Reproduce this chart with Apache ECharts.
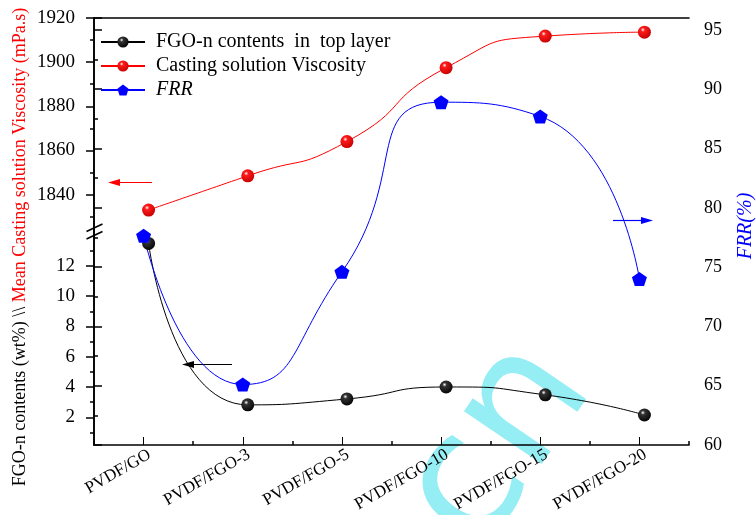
<!DOCTYPE html>
<html>
<head>
<meta charset="utf-8">
<script src="https://cdn.jsdelivr.net/npm/echarts@6/dist/echarts.min.js"></script>
<style>
  html, body { margin: 0; padding: 0; background: #ffffff; }
  #chart { width: 756px; height: 515px; }
</style>
</head>
<body>
<div id="chart"></div>
<script>
// Membrane samples along the x axis
const categories = ['PVDF/GO', 'PVDF/FGO-3', 'PVDF/FGO-5', 'PVDF/FGO-10', 'PVDF/FGO-15', 'PVDF/FGO-20'];

// FGO-n contents in the top layer (wt%), lower-left scale
const fgoContents = [13.48, 2.82, 3.21, 4.0, 3.48, 2.15];
// Mean casting solution viscosity (mPa.s), upper-left scale
const viscosity = [1833.0, 1848.5, 1864.0, 1897.5, 1911.8, 1913.6];
// Flux recovery ratio (%), right scale
const frr = [77.65, 65.1, 74.6, 88.9, 87.7, 74.0];

// Tick values
const viscTicks = [1840, 1860, 1880, 1900, 1920];
const viscMinor = [1830, 1850, 1870, 1890, 1910];
const fgoTicks = [2, 4, 6, 8, 10, 12];
const fgoMinor = [1, 3, 5, 7, 9, 11, 13];
const frrTicks = [60, 65, 70, 75, 80, 85, 90, 95];

const SERIF = '"Liberation Serif", "Times New Roman", serif';
const AXIS_LINE = { show: true, lineStyle: { color: '#000', width: 1.6 } };
const plain = (v) => String(v);

function sphere(base, edge) {
  return {
    type: 'radial', x: 0.38, y: 0.32, r: 0.75,
    colorStops: [
      { offset: 0, color: '#ffffff' },
      { offset: 0.22, color: base },
      { offset: 1, color: edge }
    ]
  };
}
const pentagon = 'path://M0,-1 L0.951,-0.309 L0.588,0.809 L-0.588,0.809 L-0.951,-0.309 Z';

// a left scale made of a labelled major-tick axis plus a bare minor-tick axis
function leftScale(gridIndex, min, max, major, minor) {
  return [
    {
      type: 'value', gridIndex, position: 'left', offset: 5, min, max,
      axisLine: AXIS_LINE,
      splitLine: { show: false },
      axisTick: { show: true, inside: false, length: 8, customValues: major, lineStyle: { color: '#000', width: 1.5 } },
      axisLabel: { show: true, customValues: major, formatter: plain, margin: 19, color: '#000', fontFamily: SERIF, fontSize: 19 }
    },
    {
      type: 'value', gridIndex, position: 'left', offset: 5, min, max,
      axisLine: { show: false },
      splitLine: { show: false },
      axisTick: { show: true, inside: false, length: 4, customValues: minor, lineStyle: { color: '#000', width: 1.5 } },
      axisLabel: { show: false }
    }
  ];
}

const chart = echarts.init(document.getElementById('chart'), null, { renderer: 'canvas' });

const yAxes = [
  {
    type: 'value', gridIndex: 0, position: 'right', min: 60, max: 96, interval: 5,
    axisLine: AXIS_LINE,
    splitLine: { show: false },
    axisTick: { show: true, length: 8, lineStyle: { color: '#000', width: 1.5 } },
    minorTick: { show: true, splitNumber: 2, length: 4, lineStyle: { color: '#000', width: 1.5 } },
    axisLabel: { customValues: frrTicks, formatter: plain, margin: 15, color: '#000', fontFamily: SERIF, fontSize: 18 }
  }
].concat(
  leftScale(1, 1823.5, 1920, viscTicks, viscMinor),
  leftScale(2, 0.17, 14.3, fgoTicks, fgoMinor)
);

const hiddenCat = (gridIndex) => ({
  type: 'category', gridIndex, data: categories, boundaryGap: true,
  axisLine: { show: false }, axisTick: { show: false }, axisLabel: { show: false }, splitLine: { show: false }
});

const option = {
  backgroundColor: '#ffffff',
  animation: false,
  grid: [
    { left: 94, right: 67, top: 18, bottom: 70 },
    { left: 99, right: 62, top: 18, height: 213 },
    { left: 99, right: 62, top: 231, bottom: 70 }
  ],
  legend: {
    orient: 'vertical', left: 95, top: 27,
    itemWidth: 44, itemHeight: 14, itemGap: 4,
    textStyle: { fontFamily: SERIF, fontSize: 20, color: '#000', padding: [0, 0, 0, 6] },
    data: [
      { name: 'FGO-n contents  in  top layer' },
      { name: 'Casting solution Viscosity' },
      { name: 'FRR', textStyle: { fontStyle: 'italic' } }
    ]
  },
  xAxis: [
    {
      type: 'category', gridIndex: 0, data: categories, boundaryGap: true, position: 'bottom',
      axisLine: AXIS_LINE,
      axisTick: { show: true, inside: true, alignWithLabel: true, length: 8 },
      axisLabel: { rotate: 30, margin: 12, padding: [0, -7, 0, 0], color: '#000', fontFamily: SERIF, fontSize: 17, interval: 0 },
      splitLine: { show: false }
    },
    {
      type: 'value', gridIndex: 0, min: 0, max: 12, interval: 2, position: 'bottom',
      axisLine: { show: false },
      axisTick: { show: true, inside: true, length: 4, lineStyle: { color: '#000', width: 1.5 } },
      axisLabel: { show: false }, splitLine: { show: false }
    },
    {
      // top frame line
      type: 'value', gridIndex: 0, min: 0, max: 12, position: 'top',
      axisLine: AXIS_LINE, axisTick: { show: false }, axisLabel: { show: false }, splitLine: { show: false }
    },
    hiddenCat(1),
    hiddenCat(2)
  ],
  yAxis: yAxes,
  series: [
    {
      name: 'FGO-n contents  in  top layer', type: 'line', xAxisIndex: 4, yAxisIndex: 3,
      data: fgoContents, smooth: 0.6,
      symbol: 'circle', symbolSize: 13,
      lineStyle: { color: '#000', width: 1 },
      itemStyle: { color: sphere('#333333', '#000000') },
      z: 3
    },
    {
      name: 'Casting solution Viscosity', type: 'line', xAxisIndex: 3, yAxisIndex: 1,
      data: viscosity, smooth: 0.6,
      symbol: 'circle', symbolSize: 13,
      lineStyle: { color: '#ff0000', width: 1 },
      itemStyle: { color: sphere('#ff1a1a', '#c00000') },
      z: 3
    },
    {
      name: 'FRR', type: 'line', xAxisIndex: 0, yAxisIndex: 0,
      data: frr, smooth: 0.6,
      symbol: pentagon, symbolSize: [15, 14],
      lineStyle: { color: '#0000ff', width: 1 },
      itemStyle: { color: '#0000ff' },
      z: 3
    }
  ],
  graphic: [
    // faint watermark lettering behind the plot
    {
      type: 'text', x: 500, y: 446, rotation: Math.PI * 0.31, z: -10, silent: true,
      style: {
        text: 'cn', fill: 'rgba(0, 214, 228, 0.42)',
        font: '172px "DejaVu Sans", sans-serif', align: 'center', verticalAlign: 'middle'
      }
    },
    // axis break marks
    { type: 'line', shape: { x1: 86.5, y1: 231.5, x2: 102.5, y2: 224 }, style: { stroke: '#000', lineWidth: 1.6 }, z: 20 },
    { type: 'line', shape: { x1: 86.5, y1: 239, x2: 102.5, y2: 231.5 }, style: { stroke: '#000', lineWidth: 1.6 }, z: 20 },
    // arrows pointing each series to its scale
    { type: 'line', shape: { x1: 152, y1: 182.5, x2: 118, y2: 182.5 }, style: { stroke: '#ff0000', lineWidth: 1.2 } },
    { type: 'polygon', shape: { points: [[108, 182.5], [120, 179], [120, 186]] }, style: { fill: '#ff0000' } },
    { type: 'line', shape: { x1: 232, y1: 364.5, x2: 192, y2: 364.5 }, style: { stroke: '#000', lineWidth: 1.2 } },
    { type: 'polygon', shape: { points: [[182, 364.5], [194, 361], [194, 368]] }, style: { fill: '#000' } },
    { type: 'line', shape: { x1: 613, y1: 220.5, x2: 643, y2: 220.5 }, style: { stroke: '#0000ff', lineWidth: 1.2 } },
    { type: 'polygon', shape: { points: [[653, 220.5], [641, 217], [641, 224]] }, style: { fill: '#0000ff' } },
    // left axis title (two colours)
    {
      type: 'text', x: 20, y: 247, rotation: Math.PI / 2,
      style: {
        text: '{k|FGO-n contents (wt%) \\\\ }{r|Mean Casting solution Viscosity (mPa.s)}',
        align: 'center', verticalAlign: 'middle',
        rich: {
          k: { fill: '#000', fontFamily: SERIF, fontSize: 18 },
          r: { fill: '#ff0000', fontFamily: SERIF, fontSize: 18 }
        }
      }
    },
    // right axis title
    {
      type: 'text', x: 746, y: 226, rotation: Math.PI / 2,
      style: {
        text: 'FRR(%)', fill: '#0000ff', align: 'center', verticalAlign: 'middle',
        font: 'italic 20px "Liberation Serif", "Times New Roman", serif'
      }
    }
  ]
};

chart.setOption(option);
</script>
</body>
</html>
